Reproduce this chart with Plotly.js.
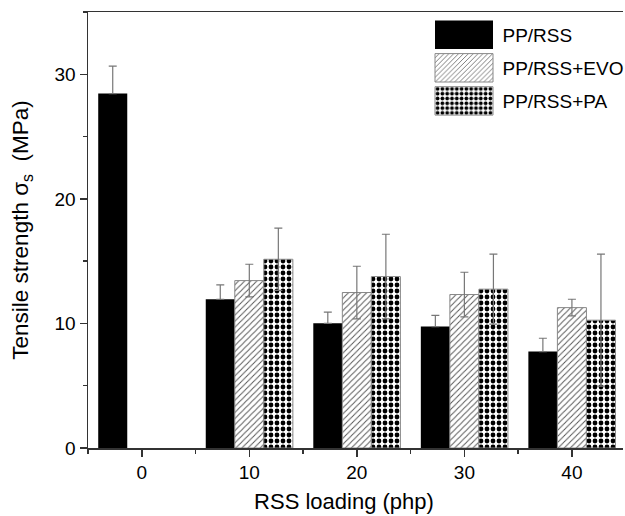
<!DOCTYPE html>
<html>
<head>
<meta charset="utf-8">
<script src="https://cdn.plot.ly/plotly-3.0.1.min.js"></script>
<style>html,body{margin:0;padding:0;background:#fff;}#chart{width:625px;height:516px;}</style>
</head>
<body>
<div id="chart"></div>
<script>
// Data
const loadings = [0, 10, 20, 30, 40];
const seriesNames = ['PP/RSS', 'PP/RSS+EVO', 'PP/RSS+PA'];
const ppRss = [28.45, 11.94, 10.01, 9.75, 7.74];
const ppRssErr = [2.2, 1.15, 0.9, 0.9, 1.07];
const ppRssEvo = [null, 13.44, 12.48, 12.32, 11.27];
const ppRssEvoErr = [null, 1.31, 2.11, 1.79, 0.67];
const ppRssPa = [null, 15.15, 13.76, 12.75, 10.26];
const ppRssPaErr = [null, 2.5, 3.4, 2.81, 5.3];
const xTickVals = [0, 10, 20, 30, 40];
const yTickVals = [0, 10, 20, 30];

const FONT = 'Liberation Sans, Arial, sans-serif';
const errStyle = (arr, hideLower) => {
  const e = {type: 'data', array: arr, visible: true, color: '#777', thickness: 1.2, width: 4};
  if (hideLower) { e.symmetric = false; e.arrayminus = arr.map(() => 0); }
  return e;
};

const traces = [
  {
    type: 'bar', name: seriesNames[0], x: loadings, y: ppRss,
    error_y: errStyle(ppRssErr, true),
    marker: {color: '#000', line: {color: '#000', width: 0}}
  },
  {
    type: 'bar', name: seriesNames[1], x: loadings, y: ppRssEvo,
    error_y: errStyle(ppRssEvoErr, false),
    marker: {color: '#fff', line: {color: '#888', width: 1},
      pattern: {shape: '/', fgcolor: '#555', bgcolor: '#fff', size: 4.3, solidity: 0.22, fillmode: 'replace'}}
  },
  {
    type: 'bar', name: seriesNames[2], x: loadings, y: ppRssPa,
    error_y: errStyle(ppRssPaErr, false),
    marker: {color: '#fff', line: {color: '#888', width: 1},
      pattern: {shape: '.', fgcolor: '#000', bgcolor: '#fff', size: 6, solidity: 0.5, fillmode: 'replace'}}
  }
];

const layout = {
  width: 625, height: 516,
  margin: {l: 88, r: 2, t: 12, b: 68},
  paper_bgcolor: '#fff', plot_bgcolor: '#fff',
  barmode: 'group', bargap: 0.19, bargroupgap: 0,
  font: {family: FONT, size: 19, color: '#000'},
  showlegend: true,
  legend: {x: 0.6, y: 1, xanchor: 'left', yanchor: 'top', bgcolor: 'rgba(0,0,0,0)', borderwidth: 0,
    font: {family: FONT, size: 19, color: '#000'}, traceorder: 'normal'},
  xaxis: {
    range: [-5, 44.75], tickvals: xTickVals, ticktext: xTickVals.map(String),
    ticks: 'outside', ticklen: 7, tickwidth: 1.5, tickcolor: '#333',
    minor: {dtick: 5, tick0: 0, ticks: 'outside', ticklen: 4, tickwidth: 1.5, tickcolor: '#333'},
    showline: true, linecolor: '#333', linewidth: 1.5, mirror: true,
    showgrid: false, zeroline: false,
    tickfont: {family: FONT, size: 19, color: '#000'},
    title: {text: 'RSS loading (php)', font: {family: FONT, size: 22, color: '#000'}, standoff: 11}
  },
  yaxis: {
    range: [0, 35], tickvals: yTickVals, ticktext: yTickVals.map(String),
    ticks: 'outside', ticklen: 7, tickwidth: 1.5, tickcolor: '#333',
    minor: {dtick: 5, tick0: 0, ticks: 'outside', ticklen: 4, tickwidth: 1.5, tickcolor: '#333'},
    showline: true, linecolor: '#333', linewidth: 1.5,
    showgrid: false, zeroline: false,
    tickfont: {family: FONT, size: 19, color: '#000'},
    title: {text: '\u00a0\u00a0Tensile strength σ<sub>s</sub>\u00a0 (MPa)', font: {family: FONT, size: 22.5, color: '#000'}, standoff: 19}
  }
};

const gd = document.getElementById('chart');
Plotly.newPlot(gd, traces, layout, {displayModeBar: false, staticPlot: true}).then(fixup);

function fixup() {
  // Drop the lower caps of the one-sided error bars on the black bars
  const errGroups = gd.querySelectorAll('g.errorbars');
  if (errGroups.length) {
    errGroups[0].querySelectorAll('path').forEach(p => {
      const d = p.getAttribute('d') || '';
      const first = d.indexOf('m');
      const last = d.lastIndexOf('m');
      if (first >= 0 && last > first) p.setAttribute('d', d.slice(0, last));
    });
  }
  // Shift the x-axis title slightly left, as in the reference
  const xt = gd.querySelector('.g-xtitle text');
  if (xt) xt.setAttribute('x', 344);

  // Enlarge the legend swatches to the big boxes used by the reference
  const legend = gd.querySelector('.legend');
  if (!legend) return;
  legend.setAttribute('transform', 'translate(0,0)');
  const bg = legend.querySelector('rect.bg');
  if (bg) bg.style.display = 'none';
  const scroll = legend.querySelector('.scrollbox');
  if (scroll) { scroll.removeAttribute('clip-path'); scroll.setAttribute('transform', 'translate(0,0)'); }
  const items = legend.querySelectorAll('g.traces');
  items.forEach((g, i) => {
    g.setAttribute('transform', 'translate(464,' + (34.7 + i * 33.1).toFixed(1) + ')');
    const pts = g.querySelector('.legendpoints');
    if (pts) pts.setAttribute('transform', 'translate(0,0)');
    g.querySelectorAll('.legendpoints path').forEach(p => {
      p.setAttribute('d', 'M29,14.2H-29V-14.2H29Z');
      p.setAttribute('transform', 'translate(0,0)');
    });
    const t = g.querySelector('text.legendtext');
    if (t) {
      t.setAttribute('x', 38.5);
      t.querySelectorAll('tspan').forEach(s => { if (s.hasAttribute('x')) s.setAttribute('x', 38.5); });
    }
  });
}
</script>
</body>
</html>
